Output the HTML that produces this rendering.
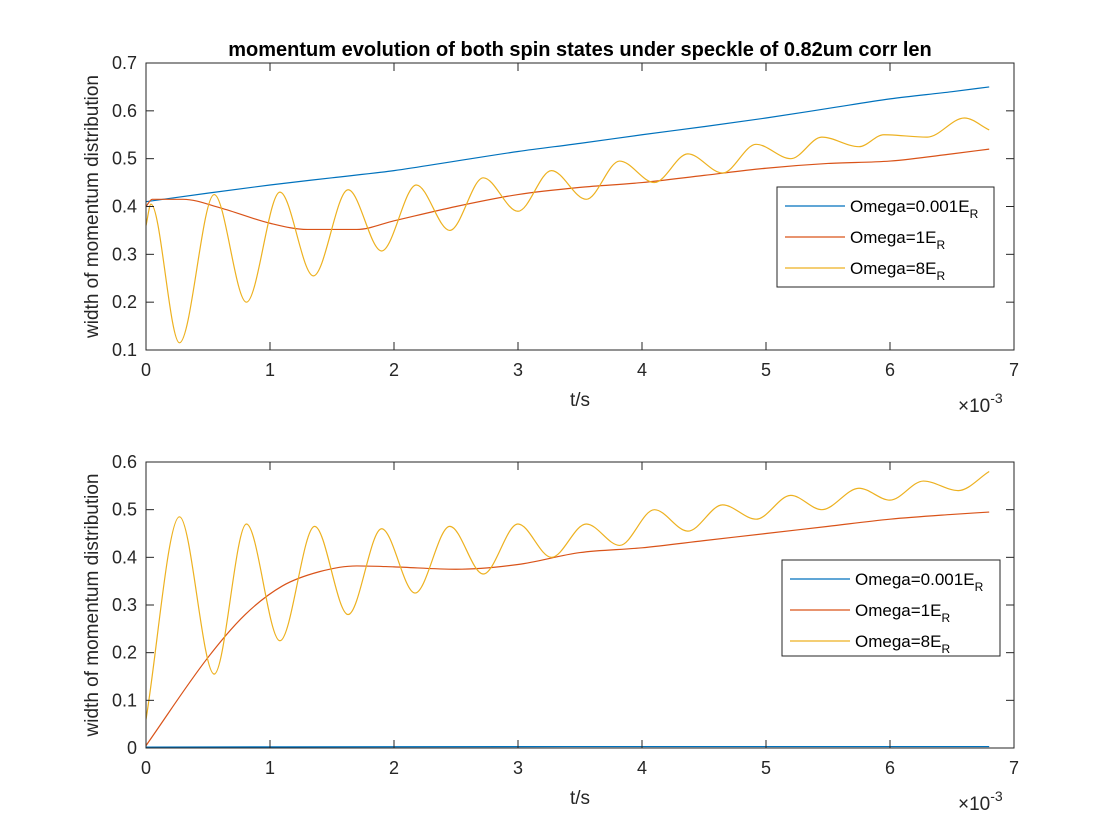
<!DOCTYPE html>
<html><head><meta charset="utf-8"><style>
body{margin:0;background:#fff}
svg{font-family:"Liberation Sans",sans-serif;display:block}
</style></head><body>
<svg id="fig" width="1120" height="840" viewBox="0 0 1120 840">
<rect width="1120" height="840" fill="#fff"/>
</svg>
<script>
const xTicks=[0,1,2,3,4,5,6,7];
const topYTicks=[0.1,0.2,0.3,0.4,0.5,0.6,0.7];
const botYTicks=[0,0.1,0.2,0.3,0.4,0.5,0.6];
const seriesNames=["Omega=0.001","Omega=1","Omega=8"];
// top panel (t in 1e-3 s)
const topBlueT=[0,0.5,1,1.5,2,2.5,3,3.5,4,4.5,5,5.5,6,6.5,6.8];
const topBlueV=[0.41,0.428,0.445,0.46,0.475,0.495,0.515,0.532,0.55,0.567,0.585,0.605,0.625,0.64,0.65];
const topRedT=[0,0.05,0.3,0.6,1,1.3,1.7,2,2.5,3,3.5,4,4.5,5,5.5,6,6.5,6.8];
const topRedV=[0.40,0.415,0.415,0.397,0.365,0.352,0.352,0.37,0.40,0.425,0.44,0.45,0.465,0.48,0.49,0.495,0.51,0.52];
const topYelT=[0,0.04,0.27,0.55,0.81,1.08,1.35,1.63,1.9,2.18,2.45,2.72,3.0,3.27,3.55,3.82,4.1,4.37,4.65,4.92,5.2,5.45,5.75,5.95,6.3,6.6,6.8];
const topYelV=[0.36,0.405,0.115,0.425,0.2,0.43,0.255,0.435,0.307,0.445,0.35,0.46,0.39,0.475,0.415,0.495,0.45,0.51,0.47,0.53,0.5,0.545,0.525,0.55,0.545,0.585,0.56];
// bottom panel
const botBlueT=[0,3.4,6.8];
const botBlueV=[0.002,0.003,0.003];
const botRedT=[0,0.5,0.8,1.1,1.4,1.7,2.0,2.5,3.0,3.5,4.0,4.5,5.0,5.5,6.0,6.5,6.8];
const botRedV=[0.005,0.19,0.28,0.34,0.37,0.382,0.38,0.375,0.385,0.41,0.42,0.435,0.45,0.465,0.48,0.49,0.495];
const botYelT=[0,0.27,0.55,0.81,1.08,1.36,1.63,1.9,2.17,2.45,2.72,3.0,3.27,3.55,3.82,4.1,4.37,4.65,4.92,5.2,5.45,5.75,6.0,6.27,6.55,6.8];
const botYelV=[0.06,0.485,0.155,0.47,0.225,0.465,0.28,0.46,0.325,0.465,0.365,0.47,0.40,0.47,0.425,0.5,0.455,0.51,0.48,0.53,0.5,0.545,0.52,0.56,0.54,0.58];

const NS="http://www.w3.org/2000/svg";
const svg=document.getElementById('fig');
const colors=["#0072BD","#D95319","#EDB120"];
function mk(tag,attrs,parent){const e=document.createElementNS(NS,tag);for(const k in attrs)e.setAttribute(k,attrs[k]);(parent||svg).appendChild(e);return e;}
function monoPath(xs,ys){
  const n=xs.length;if(n<2)return "";
  const d=[],m=[];
  for(let i=0;i<n-1;i++)d.push((ys[i+1]-ys[i])/(xs[i+1]-xs[i]));
  m[0]=d[0];m[n-1]=d[n-2];
  for(let i=1;i<n-1;i++){m[i]=(d[i-1]*d[i]<=0)?0:(d[i-1]+d[i])/2;}
  let p="M"+xs[0]+","+ys[0];
  for(let i=0;i<n-1;i++){const h=(xs[i+1]-xs[i])/3;
    p+=" C"+(xs[i]+h)+","+(ys[i]+m[i]*h)+" "+(xs[i+1]-h)+","+(ys[i+1]-m[i+1]*h)+" "+xs[i+1]+","+ys[i+1];}
  return p;
}
function panel(cfg){
  const {L,R,T,B,ymin,ymax,yTicks,series,legend,name}=cfg;
  const g=mk('g',{});
  
  
  const xs=v=>L+(v/7)*(R-L);
  const ys=v=>B-(v-ymin)/(ymax-ymin)*(B-T);
  series.forEach((s,i)=>{
    const p=mk('path',{d:monoPath(s.t.map(xs),s.v.map(ys)),fill:'none',stroke:colors[i],'stroke-width':1.2},g);
    
    
  });
  const box=mk('rect',{x:L,y:T,width:R-L,height:B-T,fill:'none',stroke:'#262626','stroke-width':1},g);
  
  
  xTicks.forEach(v=>{const x=xs(v);
    mk('line',{x1:x,x2:x,y1:B,y2:B-8,stroke:'#262626'},g);
    mk('line',{x1:x,x2:x,y1:T,y2:T+8,stroke:'#262626'},g);
    const t=mk('text',{x:x,y:B+26,'text-anchor':'middle','font-size':18,fill:'#262626'},g);t.textContent=v;
    
    
  });
  yTicks.forEach(v=>{const y=ys(v);
    mk('line',{x1:L,x2:L+8,y1:y,y2:y,stroke:'#262626'},g);
    mk('line',{x1:R,x2:R-8,y1:y,y2:y,stroke:'#262626'},g);
    const t=mk('text',{x:L-9,y:y+6,'text-anchor':'end','font-size':18,fill:'#262626'},g);t.textContent=v;
    
    
  });
  const xl=mk('text',{x:(L+R)/2,y:B+56,'text-anchor':'middle','font-size':19,fill:'#262626'},g);xl.textContent='t/s';
  
  
  const ex=mk('text',{x:R-56,y:B+62,'font-size':19,fill:'#262626'},g);
  ex.innerHTML='×10<tspan dy="-9" font-size="14">-3</tspan>';
  
  
  const yl=mk('text',{transform:`translate(${L-48},${(T+B)/2}) rotate(-90)`,'text-anchor':'middle','font-size':19,fill:'#262626'},g);
  yl.textContent='width of momentum distribution';
  
  
  const lg=mk('g',{},g);
  
  
  mk('rect',{x:legend.x,y:legend.y,width:legend.w,height:legend.h,fill:'#fff',stroke:'#262626'},lg);
  seriesNames.forEach((nm,i)=>{
    const y=legend.y+19+i*31;
    mk('line',{x1:legend.x+8,x2:legend.x+68,y1:y,y2:y,stroke:colors[i],'stroke-width':1.2},lg);
    const t=mk('text',{x:legend.x+73,y:y+6,'font-size':17,fill:'#000'},lg);
    t.innerHTML=nm+'E<tspan dy="6" font-size="12">R</tspan>';
    
    
  });
}
panel({name:'top-panel',L:146,R:1014,T:63,B:350,ymin:0.1,ymax:0.7,yTicks:topYTicks,
  series:[{t:topBlueT,v:topBlueV},{t:topRedT,v:topRedV},{t:topYelT,v:topYelV}],
  legend:{x:777,y:187,w:217,h:100}});
panel({name:'bottom-panel',L:146,R:1014,T:462,B:748,ymin:0,ymax:0.6,yTicks:botYTicks,
  series:[{t:botBlueT,v:botBlueV},{t:botRedT,v:botRedV},{t:botYelT,v:botYelV}],
  legend:{x:782,y:560,w:218,h:96}});
const title=mk('text',{x:580,y:56,'text-anchor':'middle','font-size':20,'font-weight':'bold',fill:'#000'});
title.textContent='momentum evolution of both spin states under speckle of 0.82um corr len';


</script>
</body></html>
